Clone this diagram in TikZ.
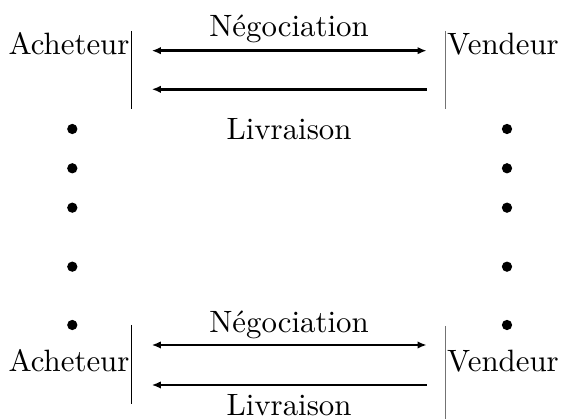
\documentclass[tikz,border=0pt]{standalone}
\usetikzlibrary{arrows.meta}
\begin{document}
\begin{tikzpicture}[x=0.35pt,y=-0.35pt,
  lbl/.style={anchor=base,inner sep=0pt,font=\fontsize{10.8}{13}\selectfont},
  tip/.tip={Latex[length=3.2pt,width=2.6pt]},
  msg/.style={line width=0.95pt,tip-tip},
  msgl/.style={line width=0.95pt,tip-},
  bar/.style={line width=0.4pt},
  grbar/.style={line width=0.45pt,draw=black!55},
  dot/.style={circle,fill=black,inner sep=0pt,minimum size=3.6pt}]
\useasboundingbox (0,0) rectangle (562,419);
% top block
\node[lbl] (a1) at (69,55) {Acheteur};
\node[lbl] (v1) at (503,55) {Vendeur};
\node[lbl] (n1) at (289,37) {Négociation};
\node[lbl] (l1) at (289,140) {Livraison};
\coordinate (la1) at (131.7,31);
\coordinate (lb1) at (131.7,109);
\coordinate (ra1) at (445.7,31);
\coordinate (rb1) at (445.7,109);
\draw[bar] (la1) -- (lb1);
\draw[grbar] (ra1) -- (rb1);
\coordinate (p1) at (151.7,50.7);
\coordinate (q1) at (426.7,50.7);
\coordinate (p2) at (151.7,89.3);
\coordinate (q2) at (426.7,89.3);
\draw[msg] (p1) -- (q1);
\draw[msgl] (p2) -- (q2);
% dots
\foreach \i/\y in {1/129,2/168.3,3/207.7,4/266.7,5/325}{
  \node[dot] (dl\i) at (72.3,\y) {};
  \node[dot] (dr\i) at (507,\y) {};
}
% bottom block
\node[lbl] (a2) at (69,372) {Acheteur};
\node[lbl] (v2) at (503,372) {Vendeur};
\node[lbl] (n2) at (289,333) {Négociation};
\node[lbl] (l2) at (289,416) {Livraison};
\coordinate (la2) at (131.7,325);
\coordinate (lb2) at (131.7,404);
\coordinate (ra2) at (445.7,326);
\coordinate (rb2) at (445.7,419);
\draw[bar] (la2) -- (lb2);
\draw[grbar] (ra2) -- (rb2);
\coordinate (p3) at (151.7,345);
\coordinate (q3) at (426.7,345);
\coordinate (p4) at (151.7,385);
\coordinate (q4) at (426.7,385);
\draw[msg] (p3) -- (q3);
\draw[msgl] (p4) -- (q4);
\end{tikzpicture}
\end{document}
